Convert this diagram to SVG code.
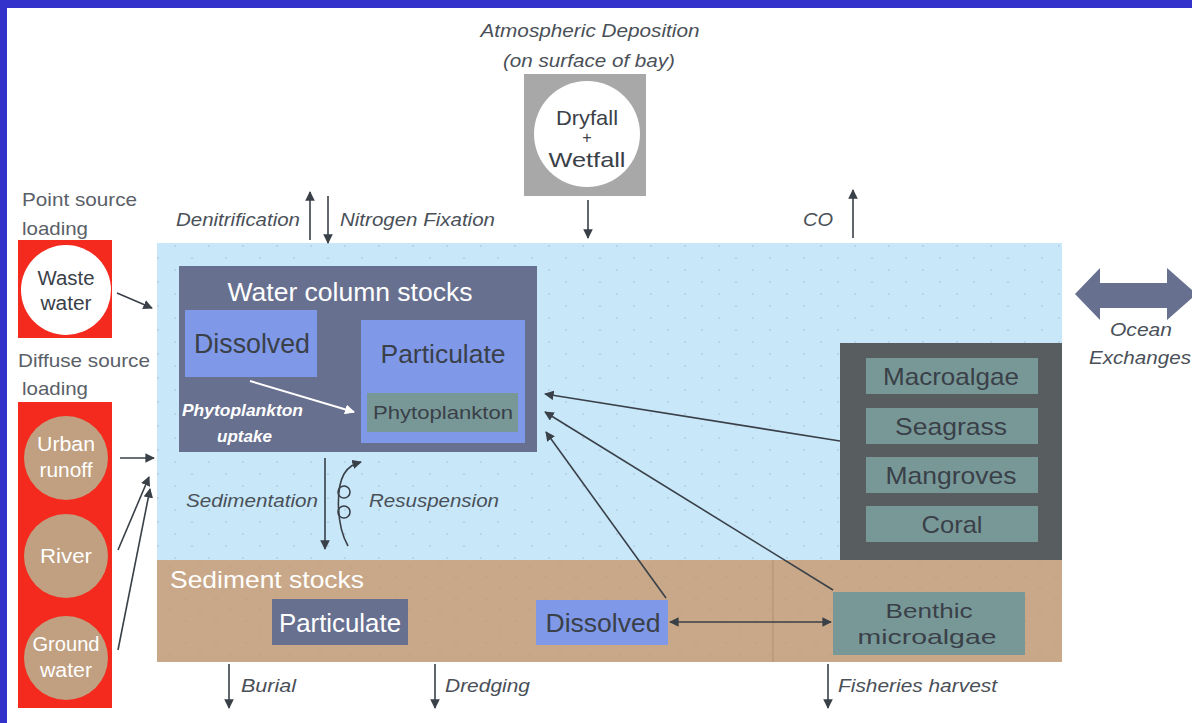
<svg xmlns="http://www.w3.org/2000/svg" width="1192" height="723" viewBox="0 0 1192 723">
<style>
text{font-family:"Liberation Sans",Arial,sans-serif}
.lab{font-size:18px;fill:#4a5058;font-style:italic}
.gl{font-size:19px;fill:#5a6068}
.wt{fill:#ffffff}
.dk{fill:#3a4048}
.ln{stroke:#3a4048;stroke-width:1.6;fill:none}
</style>
<defs>
<marker id="ah" viewBox="0 0 10 10" refX="9" refY="5" markerWidth="6" markerHeight="6" orient="auto-start-reverse"><path d="M0,0 L10,5 L0,10 z" fill="#3a4048"/></marker>
<marker id="ahw" viewBox="0 0 10 10" refX="9" refY="5" markerWidth="5" markerHeight="5" orient="auto"><path d="M0,0 L10,5 L0,10 z" fill="#ffffff"/></marker>
<pattern id="dots" width="34" height="24" patternUnits="userSpaceOnUse"><circle cx="5" cy="6" r="0.8" fill="#9ab0c4"/><circle cx="22" cy="18" r="0.8" fill="#9ab0c4"/></pattern>
<pattern id="sdots" width="30" height="22" patternUnits="userSpaceOnUse"><circle cx="6" cy="5" r="0.7" fill="#b09070"/><circle cx="20" cy="16" r="0.7" fill="#b09070"/></pattern>
</defs>
<rect x="0" y="0" width="1192" height="723" fill="#ffffff"/>
<rect x="0" y="0" width="1192" height="8" fill="#3333cc"/>
<rect x="0" y="0" width="7" height="723" fill="#3333cc"/>

<g id="bay">
<rect x="157" y="243" width="905" height="317" fill="#c8e8fa"/>
<rect x="157" y="243" width="905" height="317" fill="url(#dots)" opacity="0.8"/>
<rect x="157" y="560" width="905" height="102" fill="#c8a888"/>
<rect x="157" y="560" width="905" height="102" fill="url(#sdots)" opacity="0.7"/>
<line x1="773" y1="560" x2="773" y2="662" stroke="#b89878" stroke-width="1.5"/>
<text x="170" y="588" font-size="24" class="wt" textLength="194" lengthAdjust="spacingAndGlyphs">Sediment stocks</text>
</g>

<g id="water-column">
<rect x="179" y="266" width="358" height="186" fill="#687090"/>
<text x="350" y="301" font-size="25" class="wt" text-anchor="middle" textLength="245" lengthAdjust="spacingAndGlyphs">Water column stocks</text>
<rect x="185" y="310" width="132" height="67" fill="#8098e8"/>
<text x="252" y="353" font-size="27" class="dk" text-anchor="middle" textLength="116" lengthAdjust="spacingAndGlyphs">Dissolved</text>
<rect x="361" y="320" width="164" height="123" fill="#8098e8"/>
<text x="443" y="363" font-size="26" class="dk" text-anchor="middle" textLength="125" lengthAdjust="spacingAndGlyphs">Particulate</text>
<rect x="367" y="393" width="151" height="39" fill="#789898"/>
<text x="443" y="419" font-size="19" class="dk" text-anchor="middle" textLength="140" lengthAdjust="spacingAndGlyphs">Phytoplankton</text>
<text x="182" y="416" font-size="17" class="wt" font-style="italic" font-weight="bold" textLength="121" lengthAdjust="spacingAndGlyphs">Phytoplankton</text>
<text x="217" y="442" font-size="17" class="wt" font-style="italic" font-weight="bold" textLength="55" lengthAdjust="spacingAndGlyphs">uptake</text>
</g>

<g id="sed-particulate">
<rect x="272" y="599" width="136" height="46" fill="#687090"/>
<text x="340" y="632" font-size="26" class="wt" text-anchor="middle" textLength="122" lengthAdjust="spacingAndGlyphs">Particulate</text>
</g>
<g id="sed-dissolved">
<rect x="536" y="600" width="132" height="45" fill="#8098e8"/>
<text x="603" y="632" font-size="26" class="dk" text-anchor="middle" textLength="115" lengthAdjust="spacingAndGlyphs">Dissolved</text>
</g>
<g id="benthic">
<rect x="833" y="592" width="192" height="63" fill="#789898"/>
<text x="929" y="618" font-size="21" class="dk" text-anchor="middle" textLength="87" lengthAdjust="spacingAndGlyphs">Benthic</text>
<text x="927" y="644" font-size="21" class="dk" text-anchor="middle" textLength="139" lengthAdjust="spacingAndGlyphs">microalgae</text>
</g>

<g id="habitats">
<rect x="840" y="343" width="222" height="217" fill="#585e60"/>
<rect x="866" y="358" width="172" height="36" fill="#789898"/>
<text x="951" y="385" font-size="24" class="dk" text-anchor="middle" textLength="136" lengthAdjust="spacingAndGlyphs">Macroalgae</text>
<rect x="866" y="408" width="172" height="36" fill="#789898"/>
<text x="951" y="435" font-size="24" class="dk" text-anchor="middle" textLength="112" lengthAdjust="spacingAndGlyphs">Seagrass</text>
<rect x="866" y="457" width="172" height="36" fill="#789898"/>
<text x="951" y="484" font-size="24" class="dk" text-anchor="middle" textLength="131" lengthAdjust="spacingAndGlyphs">Mangroves</text>
<rect x="866" y="506" width="172" height="36" fill="#789898"/>
<text x="952" y="533" font-size="24" class="dk" text-anchor="middle" textLength="61" lengthAdjust="spacingAndGlyphs">Coral</text>
</g>

<g id="point-source">
<text x="22" y="206" class="gl" textLength="115" lengthAdjust="spacingAndGlyphs">Point source</text>
<text x="22" y="235" class="gl" textLength="66" lengthAdjust="spacingAndGlyphs">loading</text>
<rect x="18" y="240" width="94" height="98" fill="#f52a1e"/>
<circle cx="66" cy="290" r="45" fill="#ffffff"/>
<text x="66" y="285" font-size="20" class="dk" text-anchor="middle" textLength="57" lengthAdjust="spacingAndGlyphs">Waste</text>
<text x="66" y="310" font-size="20" class="dk" text-anchor="middle" textLength="51" lengthAdjust="spacingAndGlyphs">water</text>
</g>

<g id="diffuse-source">
<text x="18" y="367" class="gl" textLength="132" lengthAdjust="spacingAndGlyphs">Diffuse source</text>
<text x="22" y="395" class="gl" textLength="66" lengthAdjust="spacingAndGlyphs">loading</text>
<rect x="18" y="402" width="94" height="306" fill="#f52a1e"/>
<circle cx="66" cy="458" r="42" fill="#c0a080"/>
<text x="66" y="451" font-size="20" class="wt" text-anchor="middle" textLength="58" lengthAdjust="spacingAndGlyphs">Urban</text>
<text x="66" y="477" font-size="20" class="wt" text-anchor="middle" textLength="53" lengthAdjust="spacingAndGlyphs">runoff</text>
<circle cx="66" cy="556" r="42" fill="#c0a080"/>
<text x="66" y="563" font-size="20" class="wt" text-anchor="middle" textLength="52" lengthAdjust="spacingAndGlyphs">River</text>
<circle cx="66" cy="658" r="42" fill="#c0a080"/>
<text x="66" y="651" font-size="20" class="wt" text-anchor="middle" textLength="67" lengthAdjust="spacingAndGlyphs">Ground</text>
<text x="66" y="677" font-size="20" class="wt" text-anchor="middle" textLength="52" lengthAdjust="spacingAndGlyphs">water</text>
</g>

<g id="atmospheric">
<text x="590" y="37" class="lab" text-anchor="middle" textLength="219" lengthAdjust="spacingAndGlyphs">Atmospheric Deposition</text>
<text x="589" y="67" class="lab" text-anchor="middle" textLength="172" lengthAdjust="spacingAndGlyphs">(on surface of bay)</text>
<rect x="524" y="74" width="122" height="122" fill="#a8a8a8"/>
<circle cx="587" cy="134" r="53" fill="#ffffff"/>
<text x="587" y="125" font-size="21" class="dk" text-anchor="middle" textLength="62" lengthAdjust="spacingAndGlyphs">Dryfall</text>
<text x="587" y="143" font-size="16" class="dk" text-anchor="middle">+</text>
<text x="587" y="167" font-size="21" class="dk" text-anchor="middle" textLength="77" lengthAdjust="spacingAndGlyphs">Wetfall</text>
</g>

<g id="ocean">
<path d="M1075,294 L1100,268 L1100,283 L1167,283 L1167,268 L1192,290 L1192,298 L1167,320 L1167,308 L1100,308 L1100,320 Z" fill="#687090"/>
<text x="1141" y="336" class="lab" text-anchor="middle" textLength="62" lengthAdjust="spacingAndGlyphs">Ocean</text>
<text x="1140" y="364" class="lab" text-anchor="middle" textLength="102" lengthAdjust="spacingAndGlyphs">Exchanges</text>
</g>

<g id="flow-labels">
<text x="176" y="226" class="lab" textLength="124" lengthAdjust="spacingAndGlyphs">Denitrification</text>
<text x="340" y="226" class="lab" textLength="155" lengthAdjust="spacingAndGlyphs">Nitrogen Fixation</text>
<text x="803" y="226" class="lab" textLength="30" lengthAdjust="spacingAndGlyphs">CO</text>
<text x="186" y="507" class="lab" textLength="132" lengthAdjust="spacingAndGlyphs">Sedimentation</text>
<text x="369" y="507" class="lab" textLength="130" lengthAdjust="spacingAndGlyphs">Resuspension</text>
<text x="241" y="692" class="lab" textLength="55" lengthAdjust="spacingAndGlyphs">Burial</text>
<text x="445" y="692" class="lab" textLength="85" lengthAdjust="spacingAndGlyphs">Dredging</text>
<text x="838" y="692" class="lab" textLength="159" lengthAdjust="spacingAndGlyphs">Fisheries harvest</text>
</g>

<g id="connectors">
<line class="ln" x1="310" y1="240" x2="310" y2="192" marker-end="url(#ah)"/>
<line class="ln" x1="328" y1="196" x2="328" y2="243" marker-end="url(#ah)"/>
<line class="ln" x1="588" y1="200" x2="588" y2="238" marker-end="url(#ah)"/>
<line class="ln" x1="853" y1="238" x2="853" y2="190" marker-end="url(#ah)"/>
<line class="ln" x1="117" y1="293" x2="152" y2="308" marker-end="url(#ah)"/>
<line class="ln" x1="120" y1="458" x2="154" y2="458" marker-end="url(#ah)"/>
<line class="ln" x1="118" y1="550" x2="149" y2="477" marker-end="url(#ah)"/>
<line class="ln" x1="118" y1="650" x2="150" y2="489" marker-end="url(#ah)"/>
<line x1="250" y1="381" x2="354" y2="412" stroke="#ffffff" stroke-width="2" marker-end="url(#ahw)"/>
<line class="ln" x1="325" y1="458" x2="325" y2="549" marker-end="url(#ah)"/>
<path class="ln" d="M348,546 C336,525 336,488 344,474 C349,466 354,464 361,462" marker-end="url(#ah)"/>
<circle class="ln" cx="344" cy="492" r="6"/>
<circle class="ln" cx="344" cy="512" r="6"/>
<line class="ln" x1="840" y1="441" x2="545" y2="394" marker-end="url(#ah)"/>
<line class="ln" x1="833" y1="590" x2="545" y2="412" marker-end="url(#ah)"/>
<line class="ln" x1="666" y1="598" x2="546" y2="432" marker-end="url(#ah)"/>
<line class="ln" x1="670" y1="622" x2="831" y2="622" marker-start="url(#ah)" marker-end="url(#ah)"/>
<line class="ln" x1="229" y1="664" x2="229" y2="708" marker-end="url(#ah)"/>
<line class="ln" x1="435" y1="664" x2="435" y2="708" marker-end="url(#ah)"/>
<line class="ln" x1="828" y1="664" x2="828" y2="708" marker-end="url(#ah)"/>
</g>
</svg>
